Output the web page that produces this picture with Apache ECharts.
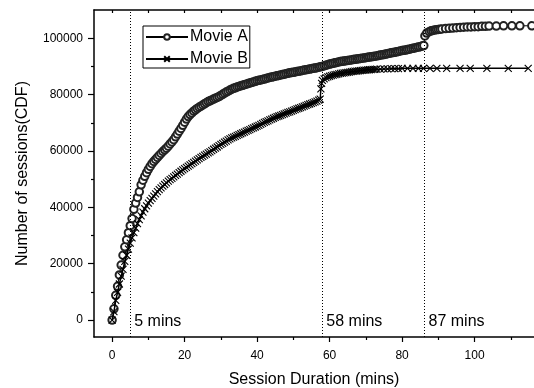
<!DOCTYPE html>
<html>
<head>
<meta charset="utf-8">
<script src="https://cdn.jsdelivr.net/npm/echarts@6/dist/echarts.min.js"></script>
<style>
  html, body { margin: 0; padding: 0; background: #fff; }
  #chart { width: 534px; height: 388px; }
</style>
</head>
<body>
<div id="chart"></div>
<script>
// session duration (mins) and cumulative session counts
var minutesA = [0, 0.5, 1, 1.5, 2, 2.5, 3, 3.5, 4, 4.5, 5, 5.5, 6, 6.5, 7, 7.5, 8,
    8.5, 9, 9.5, 10, 10.5, 11, 11.5, 12, 12.5, 13, 13.5, 14, 14.5, 15, 15.5, 16, 16.5, 17, 17.5, 18, 18.5, 19, 19.5, 20,
    20.5, 21, 21.5, 22, 22.5, 23, 23.5, 24, 24.5, 25, 25.5, 26, 26.5, 27, 27.5, 28, 28.5, 29, 29.5, 30,
    30.5, 31, 31.5, 32, 32.5, 33, 33.5, 34, 34.5, 35, 35.5, 36, 36.5, 37, 37.5, 38, 38.5, 39, 39.5, 40,
    40.5, 41, 41.5, 42, 42.5, 43, 43.5, 44, 44.5, 45, 45.5, 46, 46.5, 47, 47.5, 48, 48.5, 49, 49.5, 50,
    50.5, 51, 51.5, 52, 52.5, 53, 53.5, 54, 54.5, 55, 55.5, 56, 56.5, 57, 57.5, 58, 58.5, 59, 59.5, 60,
    60.5, 61, 61.5, 62, 62.5, 63, 63.5, 64, 64.5, 65, 65.5, 66, 66.5, 67, 67.5, 68, 68.5, 69, 69.5, 70,
    70.5, 71, 71.5, 72, 72.5, 73, 73.5, 74, 74.5, 75, 75.5, 76, 76.5, 77, 77.5, 78, 78.5, 79, 79.5, 80,
    80.5, 81, 81.5, 82, 82.5, 83, 83.5, 84, 84.5, 85, 85.5, 86,
    86.3, 86.8, 87.5, 88, 88.5, 89, 89.5, 90, 90.5, 91, 92, 93, 94, 95, 96, 97, 98, 99, 100,
    101, 102, 103, 104, 106, 108, 110.3, 112.5, 115.8];
var sessionsA = [0, 4000, 8800, 12000, 16000, 19500, 23000, 26000, 28500, 31000, 33500, 36000, 39300, 41500, 43500, 45500, 48000,
    49600, 51000, 52300, 53500, 54500, 55500, 56300, 57000, 57700, 58400, 59100, 59800, 60400, 61000, 61700, 62500, 63200, 64000, 65000, 66000, 67000, 68000, 69100, 70200,
    71300, 72200, 72900, 73500, 74100, 74600, 75100, 75500, 75900, 76300, 76700, 77100, 77500, 77800, 78100, 78400, 78700, 79000, 79300, 79700,
    80100, 80500, 80900, 81200, 81600, 81900, 82200, 82400, 82700, 82900, 83100, 83300, 83500, 83700, 83900, 84100, 84300, 84500, 84700, 84900,
    85050, 85200, 85350, 85500, 85700, 85900, 86050, 86200, 86350, 86500, 86650, 86800, 86950, 87100, 87250, 87400, 87550, 87700, 87800, 87900,
    88050, 88200, 88300, 88400, 88550, 88700, 88800, 88900, 89050, 89200, 89300, 89400, 89550, 89700, 89850, 90000, 90200, 90400, 90600, 90800,
    90950, 91100, 91250, 91400, 91550, 91700, 91800, 91900, 92000, 92100, 92200, 92300, 92400, 92500, 92600, 92700, 92800, 92900, 93000, 93100,
    93200, 93300, 93400, 93500, 93600, 93700, 93850, 94000, 94100, 94200, 94350, 94500, 94650, 94800, 94900, 95000, 95150, 95300, 95450, 95600,
    95700, 95800, 95950, 96100, 96250, 96400, 96550, 96700, 96850, 97000, 97200, 97400,
    100800, 101800, 102300, 102600, 102750, 102900, 103000, 103100, 103200, 103300, 103400, 103500, 103600, 103700, 103800, 103900, 104000, 104000, 104100,
    104100, 104200, 104200, 104300, 104300, 104400, 104400, 104400, 104400];

var minutesB = [0, 0.5, 1, 1.5, 2, 2.5, 3, 3.5, 4, 4.5, 5, 5.5, 6, 6.5, 7, 7.5, 8,
    8.5, 9, 9.5, 10, 10.5, 11, 11.5, 12, 12.5, 13, 13.5, 14, 14.5, 15, 15.5, 16, 16.5, 17, 17.5, 18, 18.5, 19, 19.5, 20,
    20.5, 21, 21.5, 22, 22.5, 23, 23.5, 24, 24.5, 25, 25.5, 26, 26.5, 27, 27.5, 28, 28.5, 29, 29.5, 30,
    30.5, 31, 31.5, 32, 32.5, 33, 33.5, 34, 34.5, 35, 35.5, 36, 36.5, 37, 37.5, 38, 38.5, 39, 39.5, 40,
    40.5, 41, 41.5, 42, 42.5, 43, 43.5, 44, 44.5, 45, 45.5, 46, 46.5, 47, 47.5, 48, 48.5, 49, 49.5, 50,
    50.5, 51, 51.5, 52, 52.5, 53, 53.5, 54, 54.5, 55, 55.5, 56, 56.5, 57, 57.4, 57.6, 57.8, 58, 58.5, 59, 59.5, 60,
    60.5, 61, 61.5, 62, 62.5, 63, 63.5, 64, 64.5, 65, 65.5, 66, 66.5, 67, 67.5, 68, 68.5, 69, 69.5, 70,
    70.5, 71, 71.5, 72, 72.5, 73, 74, 75, 76, 77, 78, 79, 80, 81.5, 83, 84.5, 85.9,
    87.7, 89.6, 92.3, 96, 98.8, 103.4, 109.3, 114.8];
var sessionsB = [0, 3000, 7000, 9800, 12800, 15600, 18000, 20800, 23000, 25200, 27300, 29200, 31000, 32600, 34200, 35600, 37000,
    38300, 39500, 40500, 41500, 42400, 43200, 44000, 44800, 45600, 46300, 46900, 47500, 48100, 48700, 49300, 49800, 50300, 50800, 51300, 51800, 52300, 52800, 53250, 53700,
    54150, 54600, 55050, 55500, 55950, 56400, 56850, 57300, 57700, 58100, 58500, 58900, 59300, 59700, 60150, 60600, 61000, 61400, 61850, 62300,
    62700, 63100, 63500, 63900, 64250, 64600, 64900, 65200, 65500, 65800, 66100, 66400, 66700, 67000, 67300, 67600, 67900, 68200, 68500, 68800,
    69100, 69400, 69750, 70100, 70400, 70700, 71000, 71300, 71600, 71900, 72150, 72400, 72650, 72900, 73150, 73400, 73650, 73900, 74150, 74400,
    74650, 74900, 75150, 75400, 75650, 75900, 76150, 76400, 76650, 76900, 77150, 77400, 77700, 78000, 78400, 82000, 84000, 85000, 85600, 86000, 86250, 86500,
    86700, 86900, 87050, 87200, 87350, 87500, 87600, 87700, 87800, 87900, 88000, 88100, 88200, 88300, 88350, 88400, 88500, 88600, 88650, 88700,
    88750, 88800, 88850, 88900, 88950, 89000, 89000, 89100, 89100, 89200, 89200, 89200, 89300, 89300, 89300, 89300, 89300,
    89300, 89300, 89300, 89300, 89300, 89300, 89300, 89300];

var cutMinutes = [5, 58, 86.2];
var cutLabels = ['5 mins', '58 mins', '87 mins'];

var xMajorTicks = [0, 20, 40, 60, 80, 100];
var xMinorTicks = [10, 30, 50, 70, 90, 110];
var xTopTicks = [0, 10, 20, 30, 40, 50, 60, 70, 80, 90, 100, 110];
var yMajorTicks = [0, 20000, 40000, 60000, 80000, 100000];
var yMinorTicks = [10000, 30000, 50000, 70000, 90000];

function pairs(xs, ys) {
    var out = [];
    for (var i = 0; i < xs.length; i++) {
        out.push([xs[i], ys[i]]);
    }
    return out;
}

var font = 'Liberation Sans, Arial, sans-serif';
var crossPath = 'path://M0,0L10,10M10,0L0,10';

var chart = echarts.init(document.getElementById('chart'));
var option = {
    animation: false,
    backgroundColor: '#fff',
    textStyle: { fontFamily: font, color: '#000' },
    grid: { left: 94, top: 10, right: 0, bottom: 51, containLabel: false, outerBoundsMode: 'none' },
    legend: {
        data: ['Movie A', 'Movie B'],
        orient: 'vertical',
        left: 143,
        top: 26,
        padding: [3, 2, 1, 2],
        itemGap: 6,
        itemWidth: 42,
        itemHeight: 7,
        borderColor: '#000',
        borderWidth: 1,
        textStyle: { fontFamily: font, fontSize: 16, color: '#000', padding: [0, 0, 0, -3] }
    },
    xAxis: [
        {
            type: 'value', position: 'bottom', min: -5, max: 116.4,
            name: 'Session Duration (mins)', nameLocation: 'middle', nameGap: 35, nameMoveOverlap: false,
            nameTextStyle: { fontFamily: font, fontSize: 16, color: '#000' },
            splitLine: { show: false },
            axisLine: { show: true, onZero: false, lineStyle: { color: '#000', width: 1.5 } },
            axisTick: { show: true, customValues: xMajorTicks, length: 5, lineStyle: { color: '#000', width: 1.2 } },
            axisLabel: { customValues: xMajorTicks, margin: 13, fontSize: 12, color: '#000', fontFamily: font }
        },
        {
            type: 'value', position: 'bottom', min: -5, max: 116.4,
            splitLine: { show: false },
            axisLine: { show: false, onZero: false },
            axisTick: { show: true, customValues: xMinorTicks, length: 3, lineStyle: { color: '#000', width: 1.2 } },
            axisLabel: { show: false }
        },
        {
            type: 'value', position: 'top', min: -5, max: 116.4,
            splitLine: { show: false },
            axisLine: { show: true, onZero: false, lineStyle: { color: '#000', width: 1.5 } },
            axisTick: { show: true, inside: true, customValues: xTopTicks, length: 3, lineStyle: { color: '#000', width: 1.2 } },
            axisLabel: { show: false }
        }
    ],
    yAxis: [
        {
            type: 'value', position: 'left', min: -6000, max: 110000,
            name: 'Number of sessions(CDF)', nameLocation: 'middle', nameGap: 63, nameMoveOverlap: false,
            nameTextStyle: { fontFamily: font, fontSize: 16, color: '#000' },
            splitLine: { show: false },
            axisLine: { show: true, onZero: false, lineStyle: { color: '#000', width: 1.5 } },
            axisTick: { show: true, customValues: yMajorTicks, length: 6, lineStyle: { color: '#000', width: 1.2 } },
            axisLabel: {
                customValues: yMajorTicks, margin: 11, fontSize: 12, color: '#000', fontFamily: font,
                formatter: function (v) { return String(v); }
            }
        },
        {
            type: 'value', position: 'left', min: -6000, max: 110000,
            splitLine: { show: false },
            axisLine: { show: false, onZero: false },
            axisTick: { show: true, customValues: yMinorTicks, length: 3, lineStyle: { color: '#000', width: 1.2 } },
            axisLabel: { show: false }
        }
    ],
    series: [
        {
            name: 'Movie A',
            type: 'line',
            xAxisIndex: 0, yAxisIndex: 0,
            data: pairs(minutesA, sessionsA),
            symbol: 'emptyCircle',
            symbolSize: 7.5,
            showAllSymbol: true,
            lineStyle: { color: '#000', width: 1 },
            itemStyle: { color: '#222', borderColor: '#222', borderWidth: 0.7 },
            z: 3
        },
        {
            name: 'Movie B',
            type: 'line',
            xAxisIndex: 0, yAxisIndex: 0,
            data: pairs(minutesB, sessionsB),
            symbol: crossPath,
            symbolSize: 7,
            showAllSymbol: true,
            lineStyle: { color: '#000', width: 1.5 },
            itemStyle: { color: '#000', borderColor: '#000', borderWidth: 1.1 },
            z: 4
        },
        {
            name: 'cuts',
            type: 'scatter',
            xAxisIndex: 0, yAxisIndex: 0,
            symbolSize: 0,
            silent: true,
            itemStyle: { opacity: 1 },
            data: cutMinutes.map(function (m, i) { return { value: [m, -700], label: { formatter: cutLabels[i] } }; }),
            label: {
                show: true, position: 'right', distance: 4,
                fontFamily: font, fontSize: 16, color: '#000'
            },
            markLine: {
                silent: true,
                symbol: ['none', 'none'],
                label: { show: false },
                lineStyle: { type: [1, 2], color: '#000', width: 1, opacity: 1 },
                data: cutMinutes.map(function (m) { return { xAxis: m }; })
            },
            z: 2
        }
    ]
};
chart.setOption(option);
</script>
</body>
</html>
